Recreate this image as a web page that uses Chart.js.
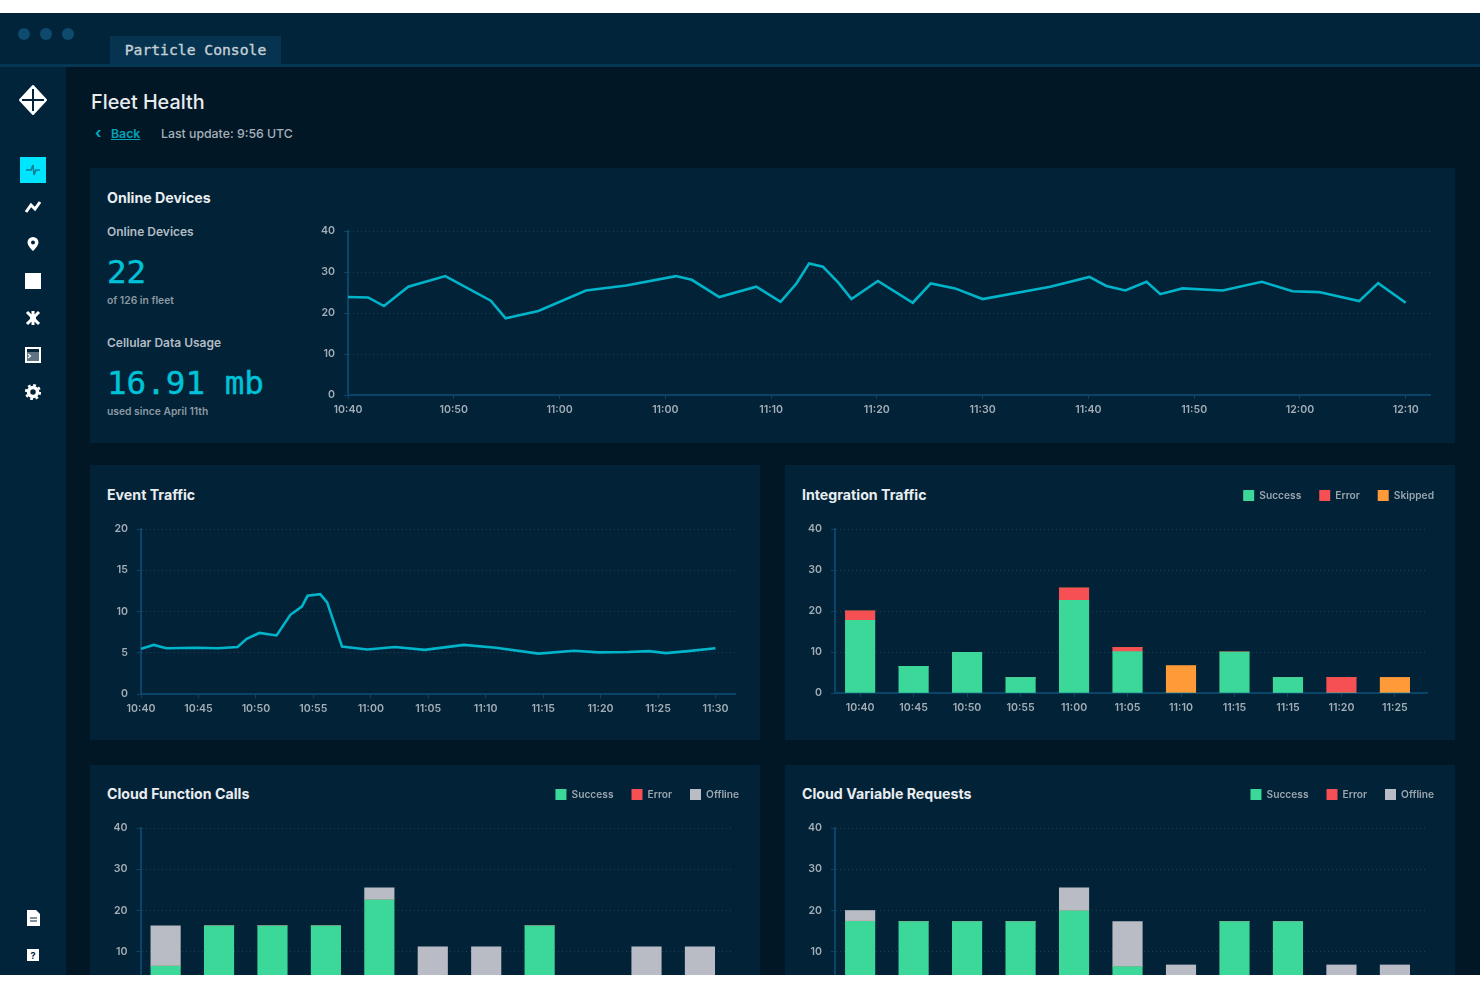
<!DOCTYPE html>
<html><head><meta charset="utf-8"><title>Fleet Health</title>
<script src="https://cdn.jsdelivr.net/npm/chart.js@4"></script>
<style>
html,body{margin:0;padding:0;width:1480px;height:987px;overflow:hidden;background:#fff;font-family:Inter,sans-serif}
#app{position:absolute;left:0;top:13px;width:1480px;height:962px;overflow:hidden;background:#011726;filter:blur(.55px)}
.abs,.t{position:absolute;white-space:nowrap}
#bar{position:absolute;left:0;top:0;width:1480px;height:53px;background:#02243a}
#line{position:absolute;left:0;top:51px;width:1480px;height:3px;background:#053754}
#side{position:absolute;left:0;top:54px;width:66px;height:908px;background:#02243a}
.dot{position:absolute;top:15px;width:12px;height:12px;border-radius:50%;background:#0d4a6e}
#tab{position:absolute;left:110px;top:23px;width:171px;height:28px;background:#053350;color:#c6d0d6;font:500 14.7px/28px "DejaVu Sans Mono",monospace;text-align:center;-webkit-text-stroke:.35px #c6d0d6}
.panel{position:absolute;background:#012237;overflow:hidden}
.panel canvas{position:absolute;display:block}
.title{position:absolute;color:#e9edf0;font:700 14.2px/18px Inter,sans-serif;white-space:nowrap}
.sub{position:absolute;color:#b3bcc4;font:600 12px/16px Inter,sans-serif;white-space:nowrap}
.tiny{position:absolute;color:#8d99a3;font:600 10.3px/14px Inter,sans-serif;white-space:nowrap}
.num{position:absolute;color:#00c2d8;font:400 32.6px/38px "DejaVu Sans Mono",monospace;white-space:nowrap;-webkit-text-stroke:.4px #00c2d8}
.ic{position:absolute;left:20px}
</style></head><body>
<div id="app">
  <div id="bar"></div><div id="line"></div>
  <div class="dot" style="left:18px"></div><div class="dot" style="left:40px"></div><div class="dot" style="left:62px"></div>
  <div id="tab">Particle Console</div>
  <div id="side"></div>
  <svg class="ic" style="left:18px;top:71px" width="30" height="32" viewBox="0 0 30 32"><path d="M15 2 28 16 15 30 2 16Z" fill="#fff" stroke="#fff" stroke-width="2" stroke-linejoin="round"/><path d="M15 5V27M4 16H26" stroke="#02243a" stroke-width="2"/></svg>
  <div class="ic" style="top:144px;width:26px;height:26px;background:#00e5ff"></div>
  <svg class="ic" style="top:144px" width="26" height="26" viewBox="0 0 26 26"><path d="M6 13H11L13 8 14 18 16 13H20" fill="none" stroke="#0b7d94" stroke-width="1.6"/></svg>
  <svg class="ic" style="top:181px" width="26" height="26" viewBox="0 0 26 26"><path d="M6 18 11 11 15 15 20 8" fill="none" stroke="#fff" stroke-width="3"/></svg>
  <svg class="ic" style="top:218px" width="26" height="26" viewBox="0 0 26 26"><path fill-rule="evenodd" d="M13 6a5.5 5.5 0 0 1 5.500 5.500C18.500 15 13 20 13 20S7.500 15 7.500 11.500A5.500 5.500 0 0 1 13 6Zm0 3.500a2 2 0 1 0 0 4 2 2 0 0 0 0-4Z" fill="#fff"/></svg>
  <svg class="ic" style="top:255px" width="26" height="26" viewBox="0 0 26 26"><rect x="5" y="5" width="16" height="16" fill="#fff"/></svg>
  <svg class="ic" style="top:292px" width="26" height="26" viewBox="0 0 26 26"><path d="M7 7 19 19M19 7 7 19M13 6V20" stroke="#fff" stroke-width="3"/><circle cx="13" cy="13" r="3" fill="#fff"/></svg>
  <svg class="ic" style="top:329px" width="26" height="26" viewBox="0 0 26 26"><rect x="6" y="6" width="14" height="14" fill="none" stroke="#fff" stroke-width="2"/><rect x="7" y="10" width="12" height="9" fill="#5e7383"/><path d="M8 12 10.500 14 8 16" fill="none" stroke="#fff" stroke-width="1.200"/></svg>
  <svg class="ic" style="top:366px" width="26" height="26" viewBox="0 0 26 26"><circle cx="13" cy="13" r="4.500" fill="none" stroke="#fff" stroke-width="3.500"/><circle cx="13" cy="13" r="7" fill="none" stroke="#fff" stroke-width="2.200" stroke-dasharray="2.800 2.700"/></svg>
  <svg class="ic" style="top:892px" width="26" height="26" viewBox="0 0 26 26"><path d="M7 5H16L20 9V21H7Z" fill="#fff"/><path d="M10 13H17M10 16H17" stroke="#02243a"/></svg>
  <svg class="ic" style="top:929px" width="26" height="26" viewBox="0 0 26 26"><rect x="7" y="7" width="12" height="12" fill="#fff"/><text x="13" y="17" font-size="9" font-weight="700" text-anchor="middle" fill="#02243a">?</text></svg>

  <div class="t" style="left:91px;top:75px;color:#e8ecef;font:500 19.8px/28px Inter,sans-serif">Fleet Health</div>
  <div class="t" style="left:95px;top:112px;color:#00acc1;font:700 15px/16px Inter,sans-serif">‹</div>
  <div class="t" style="left:111px;top:113px;color:#00a3b8;font:600 12.300px/16px Inter,sans-serif;text-decoration:underline">Back</div>
  <div class="t" style="left:161px;top:113px;color:#a7b1b9;font:500 12.300px/16px Inter,sans-serif">Last update: 9:56 UTC</div>

  <div class="panel" id="p0" style="left:90px;top:155px;width:1365px;height:275px">
    <div class="title" style="left:17px;top:21px">Online Devices</div>
    <div class="sub" style="left:17px;top:56px">Online Devices</div>
    <div class="num" style="left:17px;top:85px">22</div>
    <div class="tiny" style="left:17px;top:125px">of 126 in fleet</div>
    <div class="sub" style="left:17px;top:167px">Cellular Data Usage</div>
    <div class="num" style="left:17px;top:196px">16.91 mb</div>
    <div class="tiny" style="left:17px;top:236px">used since April 11th</div>
    <canvas id="c0" style="left:210px;top:0" width="1155" height="275"></canvas>
  </div>
  <div class="panel" id="p1" style="left:90px;top:452px;width:670px;height:275px">
    <div class="title" style="left:17px;top:21px">Event Traffic</div>
    <canvas id="c1" style="left:0;top:0" width="670" height="275"></canvas>
  </div>
  <div class="panel" id="p2" style="left:785px;top:452px;width:670px;height:275px">
    <div class="title" style="left:17px;top:21px">Integration Traffic</div>
    <canvas id="c2" style="left:0;top:0" width="670" height="275"></canvas>
  </div>
  <div class="panel" id="p3" style="left:90px;top:752px;width:670px;height:210px">
    <div class="title" style="left:17px;top:20px">Cloud Function Calls</div>
    <canvas id="c3" style="left:0;top:0" width="670" height="268"></canvas>
  </div>
  <div class="panel" id="p4" style="left:785px;top:752px;width:670px;height:210px">
    <div class="title" style="left:17px;top:20px">Cloud Variable Requests</div>
    <canvas id="c4" style="left:0;top:0" width="670" height="268"></canvas>
  </div>
</div>
<script>
// ---- data ----
const onlineTickPos = [0,10,20,30,40,50,60,70,80,90,100];
const onlineTickLabels = ["10:40","10:50","11:00","11:00","11:10","11:20","11:30","11:40","11:50","12:00","12:10"];
const onlineX = [0,1.9,3.4,5.7,9.2,13.5,14.9,18.0,22.5,26.3,31.0,32.5,35.1,38.6,40.9,42.4,43.6,44.9,46.4,47.6,50.1,53.4,55.1,57.4,60.0,66.4,70.1,71.7,73.5,75.5,76.8,78.9,82.7,86.4,89.3,91.8,95.6,97.4,100];
const onlineY = [23.9,23.8,21.7,26.4,29.0,23.0,18.7,20.5,25.5,26.7,29.0,28.1,23.9,26.4,22.7,27.2,32.1,31.3,27.3,23.4,27.8,22.5,27.2,26.0,23.4,26.4,28.8,26.6,25.5,27.6,24.6,26.0,25.5,27.6,25.3,25.1,22.9,27.3,22.5];

const eventTickPos = [0,5,10,15,20,25,30,35,40,45,50];
const eventTickLabels = ["10:40","10:45","10:50","10:55","11:00","11:05","11:10","11:15","11:20","11:25","11:30"];
const eventX = [0,1.1,2.2,4.8,6.7,8.4,9.2,10.3,11.8,13.0,14.0,14.5,15.6,16.2,17.5,19.7,22.1,24.7,28.1,30.9,34.6,37.7,39.8,42.4,44.2,45.7,47.6,50];
const eventY = [5.47,5.95,5.55,5.6,5.55,5.7,6.7,7.4,7.1,9.6,10.6,11.9,12.1,11.1,5.75,5.4,5.7,5.35,5.95,5.6,4.9,5.25,5.05,5.1,5.2,4.95,5.2,5.55];

const barCategories = ["10:40","10:45","10:50","10:55","11:00","11:05","11:10","11:15","11:15","11:20","11:25"];
const integrationSuccess = [17.7,6.5,9.9,3.8,22.6,10.1,0,10,3.8,0,0];
const integrationError   = [2.3,0,0,0,3,1,0,0,0,3.8,0];
const integrationSkipped = [0,0,0,0,0,0,6.7,0,0,0,3.8];
const functionSuccess = [6.5,16.3,16.3,16.3,22.6,0,0,16.3,0,0,0];
const functionError   = [0,0,0,0,0,0,0,0,0,0,0];
const functionOffline = [9.8,0,0,0,2.9,11.2,11.2,0,0,11.2,11.2];
const variableSuccess = [17.4,17.3,17.3,17.3,19.9,6.4,0,17.3,17.3,0,0];
const variableError   = [0,0,0,0,0,0,0,0,0,0,0];
const variableOffline = [2.6,0,0,0,5.6,10.9,6.8,0,0,6.8,6.8];

// ---- styling ----
const CYAN="#00b4ca", GREEN="#3bd899", RED="#f65054", ORANGE="#ff9a38", GREY="#b9bcc5";
const AXIS="#0a4468", GRID="#1d4258", TICK="#a3adb5";
const FONT={family:"Inter, sans-serif",size:10.6,weight:"600"};
const LEGEND_FONT={family:"Inter, sans-serif",size:10.2,weight:"600"};

function yScale(width,max,step){
  return {min:0,max:max,position:"left",
    afterFit(s){s.width=width;},
    ticks:{stepSize:step,color:TICK,font:FONT,padding:9},
    border:{color:AXIS,width:2,dash:[1,3]},
    grid:{color:GRID,lineWidth:1,tickLength:4,tickColor:AXIS,tickBorderDash:[]}};
}
function xScale(height,min,max,pos,labels){
  return {type:"linear",min:min,max:max,offset:false,
    afterFit(s){s.height=height;},
    afterBuildTicks(s){s.ticks=pos.map(v=>({value:v}));},
    ticks:{color:TICK,font:FONT,padding:4,autoSkip:false,maxRotation:0,
      callback:(v,i)=>labels[i]},
    border:{color:AXIS,width:2},
    grid:{drawOnChartArea:false,offset:false,tickLength:4,tickColor:AXIS}};
}
function lineChart(id,xs,ys,pad,yW,yMax,yStep,xH,xMax,pos,labels){
  new Chart(document.getElementById(id),{type:"line",
    data:{datasets:[{data:xs.map((x,i)=>({x:x,y:ys[i]})),borderColor:CYAN,borderWidth:2.6,pointRadius:0,tension:0,fill:false}]},
    options:{responsive:false,animation:false,layout:{padding:pad},
      plugins:{legend:{display:false},tooltip:{enabled:false}},
      scales:{x:xScale(xH,0,xMax,pos,labels),y:yScale(yW,yMax,yStep)}}});
}
const legendTune={id:"legendTune",
  start(chart){const l=chart.legend;const f=l.fit;const h=chart.options.plugins.legendTune.height;
    l.fit=function(){f.call(this);this.height=h;};},
  afterLayout(chart){const l=chart.legend;const d=chart.options.plugins.legendTune.shift;
    // move the legend to the panel's right edge; the extra 5 keeps the last item on the first row
    l.left+=d;l.right+=d+5;l.lineWidths[0]+=5;}};
function barChart(id,sets,padTop,legendH,yW,xH){
  const pos=barCategories.map((c,i)=>i);
  new Chart(document.getElementById(id),{type:"bar",
    data:{datasets:sets.map(s=>({label:s[0],backgroundColor:s[1],borderWidth:0,barThickness:29.5,
      data:s[2].map((v,i)=>({x:i,y:v}))}))},
    plugins:[legendTune],
    options:{responsive:false,animation:false,layout:{padding:{top:padTop,right:28}},
      plugins:{tooltip:{enabled:false},legendTune:{height:legendH,shift:25},
        legend:{position:"top",align:"end",labels:{boxWidth:11,boxHeight:11,padding:18,color:"#9aa5ae",font:LEGEND_FONT}}},
      scales:{x:Object.assign(xScale(xH,-0.47,10.6,pos,barCategories),{stacked:true}),
              y:Object.assign(yScale(yW,40,10),{stacked:true})}}});
}
lineChart("c0",onlineX,onlineY,{top:63,right:25},48,40,10,48,102.3,onlineTickPos,onlineTickLabels);
lineChart("c1",eventX,eventY,{top:64,right:25},51,20,5,46,51.7,eventTickPos,eventTickLabels);
barChart("c2",[["Success",GREEN,integrationSuccess],["Error",RED,integrationError],["Skipped",ORANGE,integrationSkipped]],7,57,50,47);
barChart("c3",[["Success",GREEN,functionSuccess],["Error",RED,functionError],["Offline",GREY,functionOffline]],6,57,50.5,40);
barChart("c4",[["Success",GREEN,variableSuccess],["Error",RED,variableError],["Offline",GREY,variableOffline]],6,57,50,40);
</script>
</body></html>
